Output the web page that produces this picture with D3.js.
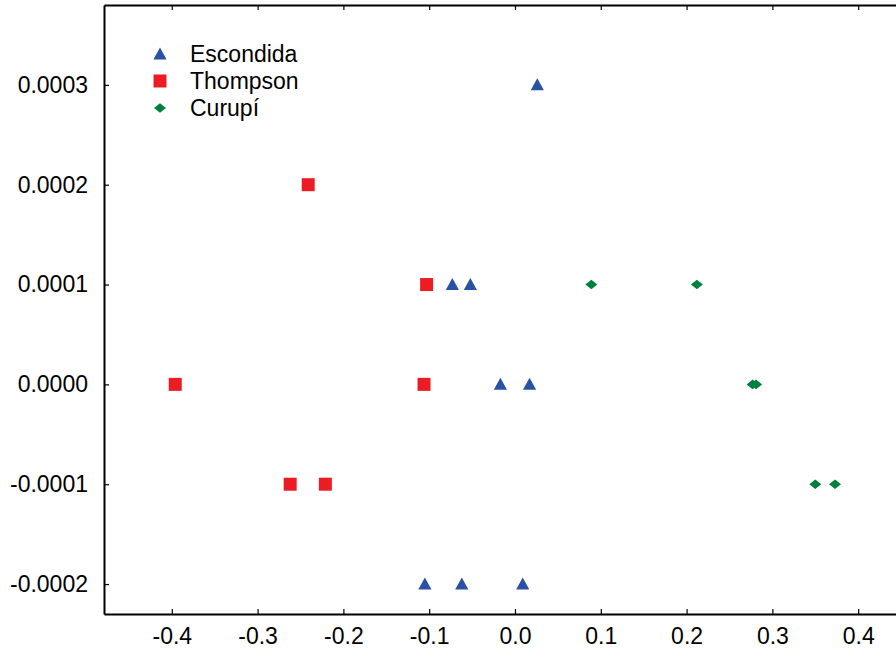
<!DOCTYPE html>
<html lang="en">
<head>
<meta charset="UTF-8">
<title>Escondida / Thompson / Curupí</title>
<style>
  body { margin: 0; background: #fff; font-family: "Liberation Sans", Arial, sans-serif; }
</style>
<script src="https://d3js.org/d3.v7.min.js"></script>
</head>
<body>
<div id="chart"></div>
<script>
// series names, in legend order
var seriesNames = ["Escondida", "Thompson", "Curupí"];

// Escondida (blue triangles)
var escondidaX = [0.026, -0.073, -0.052, -0.017, 0.017, -0.105, -0.062, 0.009];
var escondidaY = [0.0003, 0.0001, 0.0001, 0.0, 0.0, -0.0002, -0.0002, -0.0002];

// Thompson (red squares)
var thompsonX = [-0.241, -0.103, -0.396, -0.106, -0.262, -0.221];
var thompsonY = [0.0002, 0.0001, 0.0, 0.0, -0.0001, -0.0001];

// Curupí (green diamonds)
var curupiX = [0.089, 0.212, 0.277, 0.281, 0.350, 0.373];
var curupiY = [0.0001, 0.0001, 0.0, 0.0, -0.0001, -0.0001];

var xTicks = [-0.4, -0.3, -0.2, -0.1, 0.0, 0.1, 0.2, 0.3, 0.4];
var yTicks = [-0.0002, -0.0001, 0.0, 0.0001, 0.0002, 0.0003];

var W = 896, H = 659;
var margin = {top: 5, right: 0, bottom: 45, left: 104};
var fontSize = 23;

var x = d3.scaleLinear().domain([-0.479, 0.48]).range([margin.left, margin.left + 0.959 * 858]);
var y = d3.scaleLinear().domain([-0.00023, 0.00038]).range([H - margin.bottom, margin.top]);

var svg = d3.select("#chart").append("svg")
    .attr("width", W)
    .attr("height", H);

var colors = {"Escondida": "#2a52a3", "Thompson": "#ec1c24", "Curupí": "#00803f"};

// marker shapes
function triangle(s) { return "M0," + (-s * 0.55) + "L" + (s * 0.55) + "," + (s * 0.45) + "L" + (-s * 0.55) + "," + (s * 0.45) + "Z"; }
function square(s) { var h = s / 2; return "M" + -h + "," + -h + "h" + s + "v" + s + "h" + -s + "Z"; }
function diamond(s) { return "M0," + (-s * 0.4) + "L" + (s * 0.5) + ",0L0," + (s * 0.4) + "L" + (-s * 0.5) + ",0Z"; }

var shapes = {"Escondida": function() { return triangle(12); },
              "Thompson": function() { return square(13); },
              "Curupí": function() { return diamond(12); }};

var series = [
  {name: "Escondida", xs: escondidaX, ys: escondidaY},
  {name: "Thompson", xs: thompsonX, ys: thompsonY},
  {name: "Curupí", xs: curupiX, ys: curupiY}
];

// axes (ticks point inward)
svg.append("g")
    .attr("transform", "translate(0," + y.range()[0] + ")")
    .call(d3.axisBottom(x).tickValues(xTicks).tickSizeInner(-5).tickSizeOuter(0).tickPadding(14)
        .tickFormat(d3.format(".1f")))
    .call(function(g) { g.select(".domain").attr("stroke", "#000").attr("stroke-width", 2); });

svg.append("g")
    .attr("transform", "translate(0," + y.range()[1] + ")")
    .call(d3.axisTop(x).tickValues(xTicks).tickSizeInner(-5).tickSizeOuter(0).tickFormat(""))
    .call(function(g) { g.select(".domain").attr("stroke", "#000").attr("stroke-width", 2); });

svg.append("g")
    .attr("transform", "translate(" + margin.left + ",0)")
    .call(d3.axisLeft(y).tickValues(yTicks).tickSizeInner(-5).tickSizeOuter(0).tickPadding(16)
        .tickFormat(d3.format(".4f")))
    .call(function(g) { g.select(".domain").attr("stroke", "#000").attr("stroke-width", 2); });

svg.selectAll(".tick line").attr("stroke", "#000").attr("stroke-width", 1.2);
svg.selectAll(".tick text").attr("font-family", "'Liberation Sans', Arial, sans-serif")
    .attr("font-size", fontSize).attr("fill", "#000");
svg.selectAll(".tick text").text(function() { return this.textContent.replace("−", "-"); });

// points
series.forEach(function(s) {
  var pts = s.xs.map(function(v, i) { return [v, s.ys[i]]; });
  svg.append("g").selectAll("path")
    .data(pts)
    .enter().append("path")
      .attr("transform", function(d) { return "translate(" + x(d[0]) + "," + y(d[1]) + ")"; })
      .attr("d", shapes[s.name])
      .attr("fill", colors[s.name]);
});

// legend
var legend = svg.append("g").attr("transform", "translate(160,54)");
seriesNames.forEach(function(name, i) {
  var row = legend.append("g").attr("transform", "translate(0," + (i * 27) + ")");
  row.append("path").attr("d", shapes[name]).attr("fill", colors[name]);
  row.append("text")
    .attr("x", 30)
    .attr("dy", "0.36em")
    .attr("font-family", "'Liberation Sans', Arial, sans-serif")
    .attr("font-size", fontSize)
    .attr("fill", "#000")
    .text(name);
});
</script>
</body>
</html>
